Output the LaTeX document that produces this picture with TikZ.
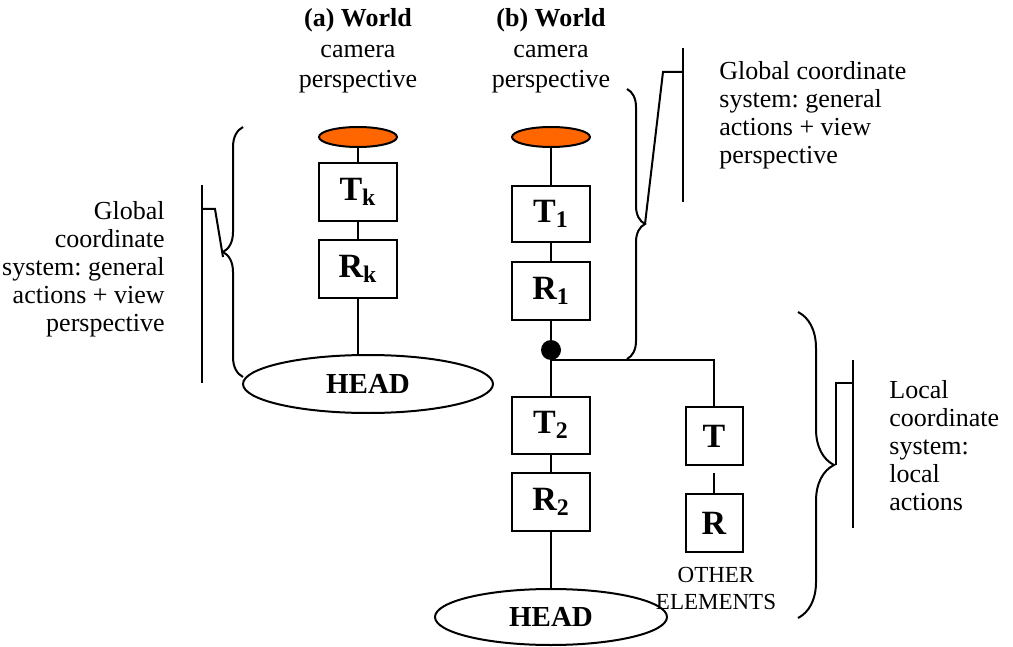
\documentclass[tikz,border=0pt]{standalone}
\usepackage{fontspec}
\setmainfont{Liberation Serif}
\usetikzlibrary{shapes.geometric, decorations.pathreplacing}
\definecolor{camorange}{RGB}{255, 102, 0}
\frenchspacing

\tikzset{
  trbox/.style={draw, line width=1pt, fill=white, inner sep=0pt,
                minimum width=39pt, minimum height=29pt,
                font=\fontsize{17}{18}\selectfont\bfseries},
  smallbox/.style={trbox, minimum width=28.5pt},
  camera/.style={ellipse, draw, line width=1pt, fill=camorange,
                 minimum width=39pt, minimum height=10pt, inner sep=0pt},
  headnode/.style={ellipse, draw, line width=1pt, fill=white, inner sep=0pt,
                   font=\fontsize{14.5}{16}\selectfont\bfseries},
  note/.style={inner sep=0pt, font=\fontsize{13}{14}\selectfont},
  link/.style={line width=1pt},
  curly/.style={line width=1pt, decorate, decoration={brace, amplitude=#1}},
}

\begin{document}
\begin{tikzpicture}[x=0.5pt, y=-0.5pt]
  \useasboundingbox (0,0) rectangle (1013,647);

  % titles
  \node[note, align=center] (titleA) at (358,51) {\textbf{(a) World}\\[1.5pt]camera\\[1pt]perspective};
  \node[note, align=center] (titleB) at (551,51) {\textbf{(b) World}\\[1.5pt]camera\\[1pt]perspective};

  % (a) chain
  \node[camera] (camA) at (358,137) {};
  \node[trbox] (Tk) at (358,192) {T\textsubscript{k}};
  \node[trbox] (Rk) at (358,269) {R\textsubscript{k}};
  \node[headnode, minimum width=125pt, minimum height=29pt] (headA) at (368,384) {HEAD};
  \draw[link] (camA) -- (Tk);
  \draw[link] (Tk) -- (Rk);
  \draw[link] (Rk.south) -- (headA.north -| Rk.south);

  % (b) chain
  \node[camera] (camB) at (551,137) {};
  \node[trbox, minimum height=28pt] (T1) at (551,214) {T\textsubscript{1}};
  \node[trbox] (R1) at (551,291) {R\textsubscript{1}};
  \node[circle, fill, inner sep=0pt, minimum size=10pt] (joint) at (551,350) {};
  \node[trbox, minimum height=28.5pt] (T2) at (551,425) {T\textsubscript{2}};
  \node[trbox] (R2) at (551,502) {R\textsubscript{2}};
  \node[headnode, minimum width=116pt, minimum height=28pt] (headB) at (551,617) {HEAD};
  \draw[link] (camB) -- (T1);
  \draw[link] (T1) -- (R1);
  \draw[link] (R1) -- (joint);
  \draw[link] (joint) -- (T2);
  \draw[link] (T2) -- (R2);
  \draw[link] (R2) -- (headB);

  % other elements
  \node[smallbox] (To) at (714,436) {T};
  \node[smallbox] (Ro) at (714,523) {R};
  \node[inner sep=0pt, align=center, font=\fontsize{11.5}{13.5}\selectfont] (other) at (716,588) {OTHER\\ELEMENTS};
  \draw[link] (joint.south) -| (To.north);
  \draw[link] ([yshift=-3.5pt]To.south) -- (Ro.north);

  % left brace and note
  \draw[curly=10pt] (243,377) -- (243,127);
  \coordinate (tipL) at (223,257);
  \coordinate (barLtop) at (202,185);
  \coordinate (barLbot) at (202,383);
  \draw[link] (tipL) -- (215,209) -- (barLtop |- 0,209);
  \draw[link] (barLtop) -- (barLbot);
  \node[note, align=right, anchor=east] (noteL) at (165,269)
    {Global\\coordinate\\system: general\\actions + view\\perspective};

  % upper right brace and note
  \draw[curly=9pt] (627,89) -- (627,359);
  \coordinate (tipG) at (645,224);
  \coordinate (barGtop) at (683,48);
  \coordinate (barGbot) at (683,202);
  \draw[link] (tipG) -- (663,72) -- (barGtop |- 0,72);
  \draw[link] (barGtop) -- (barGbot);
  \node[note, align=left, anchor=west] (noteG) at (719,115)
    {Global coordinate\\system: general\\actions + view\\perspective};

  % lower right brace and note
  \draw[curly=18pt] (798,312) -- (798,618);
  \coordinate (tipO) at (836,465);
  \coordinate (barOtop) at (853,360);
  \coordinate (barObot) at (853,528);
  \draw[link] (tipO) -- (tipO |- 0,383) -- (barOtop |- 0,383);
  \draw[link] (barOtop) -- (barObot);
  \node[note, align=left, anchor=west] (noteO) at (889,446)
    {Local\\coordinate\\system:\\local\\actions};
\end{tikzpicture}
\end{document}
